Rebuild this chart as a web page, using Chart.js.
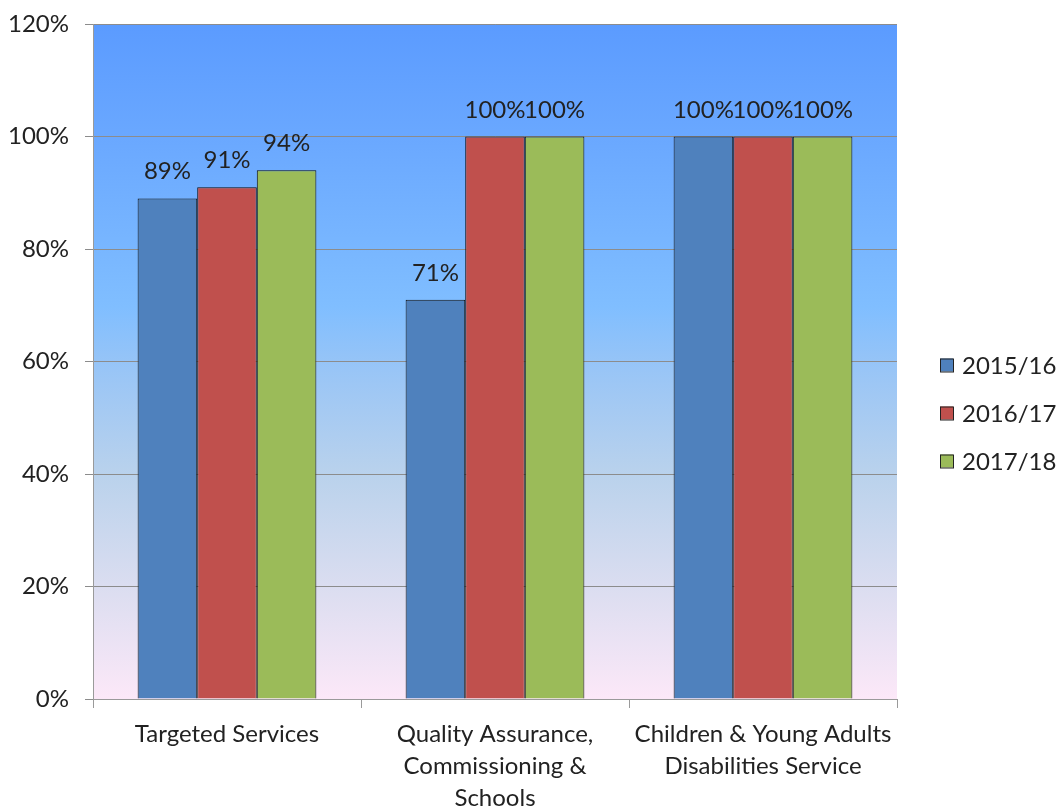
<!DOCTYPE html>
<html>
<head>
<meta charset="utf-8">
<script src="https://cdn.jsdelivr.net/npm/chart.js@4.4.1/dist/chart.umd.min.js"></script>
<style>
  html, body { margin: 0; padding: 0; background: #ffffff; }
  #wrap { width: 1063px; height: 809px; position: relative; }
</style>
</head>
<body>
<div id="wrap"><canvas id="chart" width="1063" height="809"></canvas></div>
<script>
// Service areas along the x axis (multi-line labels)
const categories = [
  ['Targeted Services'],
  ['Quality Assurance,', 'Commissioning &', 'Schools'],
  ['Children & Young Adults', 'Disabilities Service']
];
// Yearly percentages per service
const seriesNames = ['2015/16', '2016/17', '2017/18'];
const values2015 = [89, 71, 100];
const values2016 = [91, 100, 100];
const values2017 = [94, 100, 100];
const seriesColors = ['#4F81BD', '#C0504D', '#9BBB59'];
// y axis ticks
const yTicks = [0, 20, 40, 60, 80, 100, 120];

const FONT = 'Lato, "Open Sans", sans-serif';
const TEXT = '#222222';
const FS = 24;

// Gradient fill behind the plot area
const plotBackground = {
  id: 'plotBackground',
  beforeDraw(chart) {
    const { ctx, chartArea: a } = chart;
    const g = ctx.createLinearGradient(0, a.top, 0, a.bottom);
    g.addColorStop(0, 'rgb(91,155,255)');
    g.addColorStop(0.17, 'rgb(106,168,255)');
    g.addColorStop(0.33, 'rgb(120,182,255)');
    g.addColorStop(0.42, 'rgb(128,190,255)');
    g.addColorStop(0.5, 'rgb(150,196,247)');
    g.addColorStop(0.67, 'rgb(186,210,236)');
    g.addColorStop(0.83, 'rgb(218,221,240)');
    g.addColorStop(1, 'rgb(252,232,248)');
    ctx.save();
    ctx.fillStyle = g;
    ctx.fillRect(a.left, a.top, a.right - a.left, a.bottom - a.top);
    ctx.restore();
  }
};

// Value labels above each bar
const valueLabels = {
  id: 'valueLabels',
  afterDatasetsDraw(chart) {
    const { ctx } = chart;
    ctx.save();
    ctx.font = FS + 'px ' + FONT;
    ctx.fillStyle = TEXT;
    ctx.textAlign = 'center';
    ctx.textBaseline = 'alphabetic';
    chart.data.datasets.forEach((ds, i) => {
      const meta = chart.getDatasetMeta(i);
      meta.data.forEach((bar, j) => {
        ctx.fillText(ds.data[j] + '%', bar.x, bar.y - 19);
      });
    });
    ctx.restore();
  }
};

// Legend on the right side
const sideLegend = {
  id: 'sideLegend',
  afterDraw(chart) {
    const { ctx } = chart;
    const step = 48;
    const cy = chart.height / 2 + 9;
    const x0 = chart.chartArea.right + 43;
    ctx.save();
    ctx.font = FS + 'px ' + FONT;
    ctx.textBaseline = 'middle';
    chart.data.datasets.forEach((ds, i) => {
      const y = cy + (i - 1) * step;
      ctx.fillStyle = ds.backgroundColor;
      ctx.fillRect(x0, y - 7, 13, 13);
      ctx.strokeStyle = '#222';
      ctx.lineWidth = 1;
      ctx.strokeRect(x0 + 0.5, y - 6.5, 13, 13);
      ctx.fillStyle = TEXT;
      ctx.fillText(ds.label, x0 + 22, y + 1);
    });
    ctx.restore();
  }
};

const datasets = [values2015, values2016, values2017].map((vals, i) => ({
  label: seriesNames[i],
  data: vals,
  backgroundColor: seriesColors[i],
  borderColor: '#111111',
  borderWidth: 1,
  categoryPercentage: 0.667,
  barPercentage: 1.0
}));

new Chart(document.getElementById('chart'), {
  type: 'bar',
  data: { labels: categories, datasets },
  options: {
    responsive: false,
    animation: false,
    layout: { padding: { top: 24, right: 166, bottom: 0, left: 0 } },
    plugins: { legend: { display: false }, tooltip: { enabled: false } },
    scales: {
      x: {
        grid: { offset: true, drawOnChartArea: false, drawTicks: true, tickLength: 9, color: '#9a9a9a' },
        border: { color: '#9a9a9a', width: 1 },
        ticks: {
          color: TEXT, font: { family: FONT, size: FS, lineHeight: '32px' },
          padding: 10, maxRotation: 0, autoSkip: false
        },
        afterFit(scale) { scale.height = 110; scale.paddingLeft = 0; scale.paddingRight = 0; }
      },
      y: {
        min: 0, max: 120,
        afterBuildTicks(scale) { scale.ticks = yTicks.map(v => ({ value: v })); },
        grid: { color: '#8c8c8c', tickLength: 8, drawTicks: true },
        border: { color: '#9a9a9a', width: 1 },
        ticks: {
          color: TEXT, font: { family: FONT, size: FS }, padding: 16,
          callback: v => v + '%'
        },
        afterFit(scale) { scale.width = 93; scale.paddingTop = 0; scale.paddingBottom = 0; }
      }
    }
  },
  plugins: [plotBackground, valueLabels, sideLegend]
});
</script>
</body>
</html>
